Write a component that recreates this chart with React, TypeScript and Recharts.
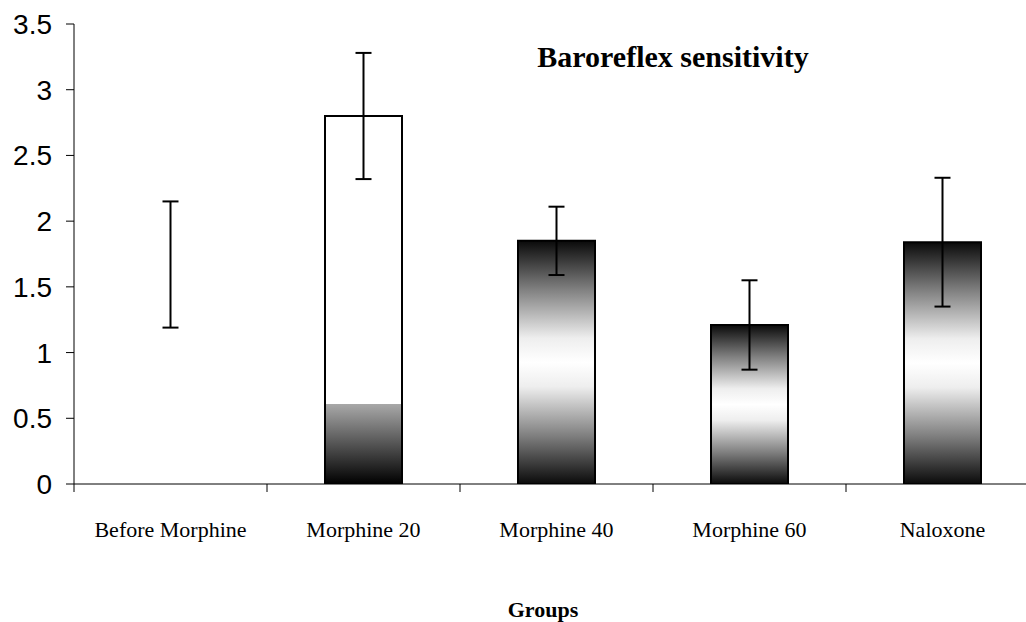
import React from "react";
import { ComposedChart, Bar, Cell, ErrorBar, XAxis, YAxis } from "recharts";

const groups = ["Before Morphine", "Morphine 20", "Morphine 40", "Morphine 60", "Naloxone"];
const sensitivity = [1.67, 2.8, 1.85, 1.21, 1.84];
const sem = [0.48, 0.48, 0.26, 0.34, 0.49];
const yTicks = [0, 0.5, 1, 1.5, 2, 2.5, 3, 3.5];

const data = groups.map((g, i) => ({ group: g, value: sensitivity[i], err: sem[i] }));

const fills = ["none", "url(#lowShade)", "url(#tubeShade)", "url(#tubeShade)", "url(#tubeShade)"];
const strokes = ["none", "#000", "#000", "#000", "#000"];

const serif = '"Liberation Serif", "Times New Roman", serif';
const sans = '"Liberation Sans", Arial, sans-serif';

function GroupTick(props: any) {
  const { x, y, payload } = props;
  const half = payload?.offset ?? 0;
  return (
    <g>
      <line x1={x - half} y1={y} x2={x - half} y2={y + 8} stroke="#000" strokeWidth={1} />
      <text x={x} y={y + 53} textAnchor="middle" fontFamily={serif} fontSize={22} fill="#000">
        {payload.value}
      </text>
    </g>
  );
}

export default function App() {
  return (
    <div style={{ position: "absolute", left: 0, top: 0, width: 1026, height: 622, overflow: "hidden", background: "#fff" }}>
      <ComposedChart width={1039} height={622} data={data} margin={{ top: 24, right: 0, bottom: 0, left: 0 }}>
        <defs>
          <linearGradient id="tubeShade" x1="0" y1="0" x2="0" y2="1">
            <stop offset="0" stopColor="#0a0a0a" />
            <stop offset="0.2" stopColor="#808080" />
            <stop offset="0.4" stopColor="#eeeeee" />
            <stop offset="0.5" stopColor="#ffffff" />
            <stop offset="0.6" stopColor="#eeeeee" />
            <stop offset="0.8" stopColor="#808080" />
            <stop offset="1" stopColor="#0a0a0a" />
          </linearGradient>
          <linearGradient id="lowShade" x1="0" y1="0" x2="0" y2="1">
            <stop offset="0" stopColor="#ffffff" />
            <stop offset="0.783" stopColor="#ffffff" />
            <stop offset="0.783" stopColor="#a8a8a8" />
            <stop offset="1" stopColor="#000000" />
          </linearGradient>
        </defs>
        <XAxis
          dataKey="group"
          tickLine={false}
          tickSize={0}
          tickMargin={0}
          axisLine={{ stroke: "#000", strokeWidth: 1 }}
          tick={<GroupTick />}
          interval={0}
          height={138}
        />
        <YAxis
          domain={[0, 3.5]}
          ticks={yTicks}
          width={74}
          tickSize={8}
          tickMargin={14}
          axisLine={{ stroke: "#000", strokeWidth: 1 }}
          tickLine={{ stroke: "#000", strokeWidth: 1 }}
          tick={{ fill: "#000", fontSize: 28, fontFamily: sans }}
          allowDataOverflow
        />
        <Bar dataKey="value" barSize={77} isAnimationActive={false}>
          {data.map((d, i) => (
            <Cell key={d.group} fill={fills[i]} stroke={strokes[i]} strokeWidth={2} />
          ))}
          <ErrorBar dataKey="err" width={8} stroke="#000" strokeWidth={2} direction="y" />
        </Bar>
      </ComposedChart>
      <svg width={1026} height={622} style={{ position: "absolute", left: 0, top: 0, pointerEvents: "none" }}>
        <text x={673} y={67} textAnchor="middle" fontFamily={serif} fontWeight="bold" fontSize={30} fill="#000">
          Baroreflex sensitivity
        </text>
        <text x={543} y={617} textAnchor="middle" fontFamily={serif} fontWeight="bold" fontSize={22} fill="#000">
          Groups
        </text>
      </svg>
    </div>
  );
}
